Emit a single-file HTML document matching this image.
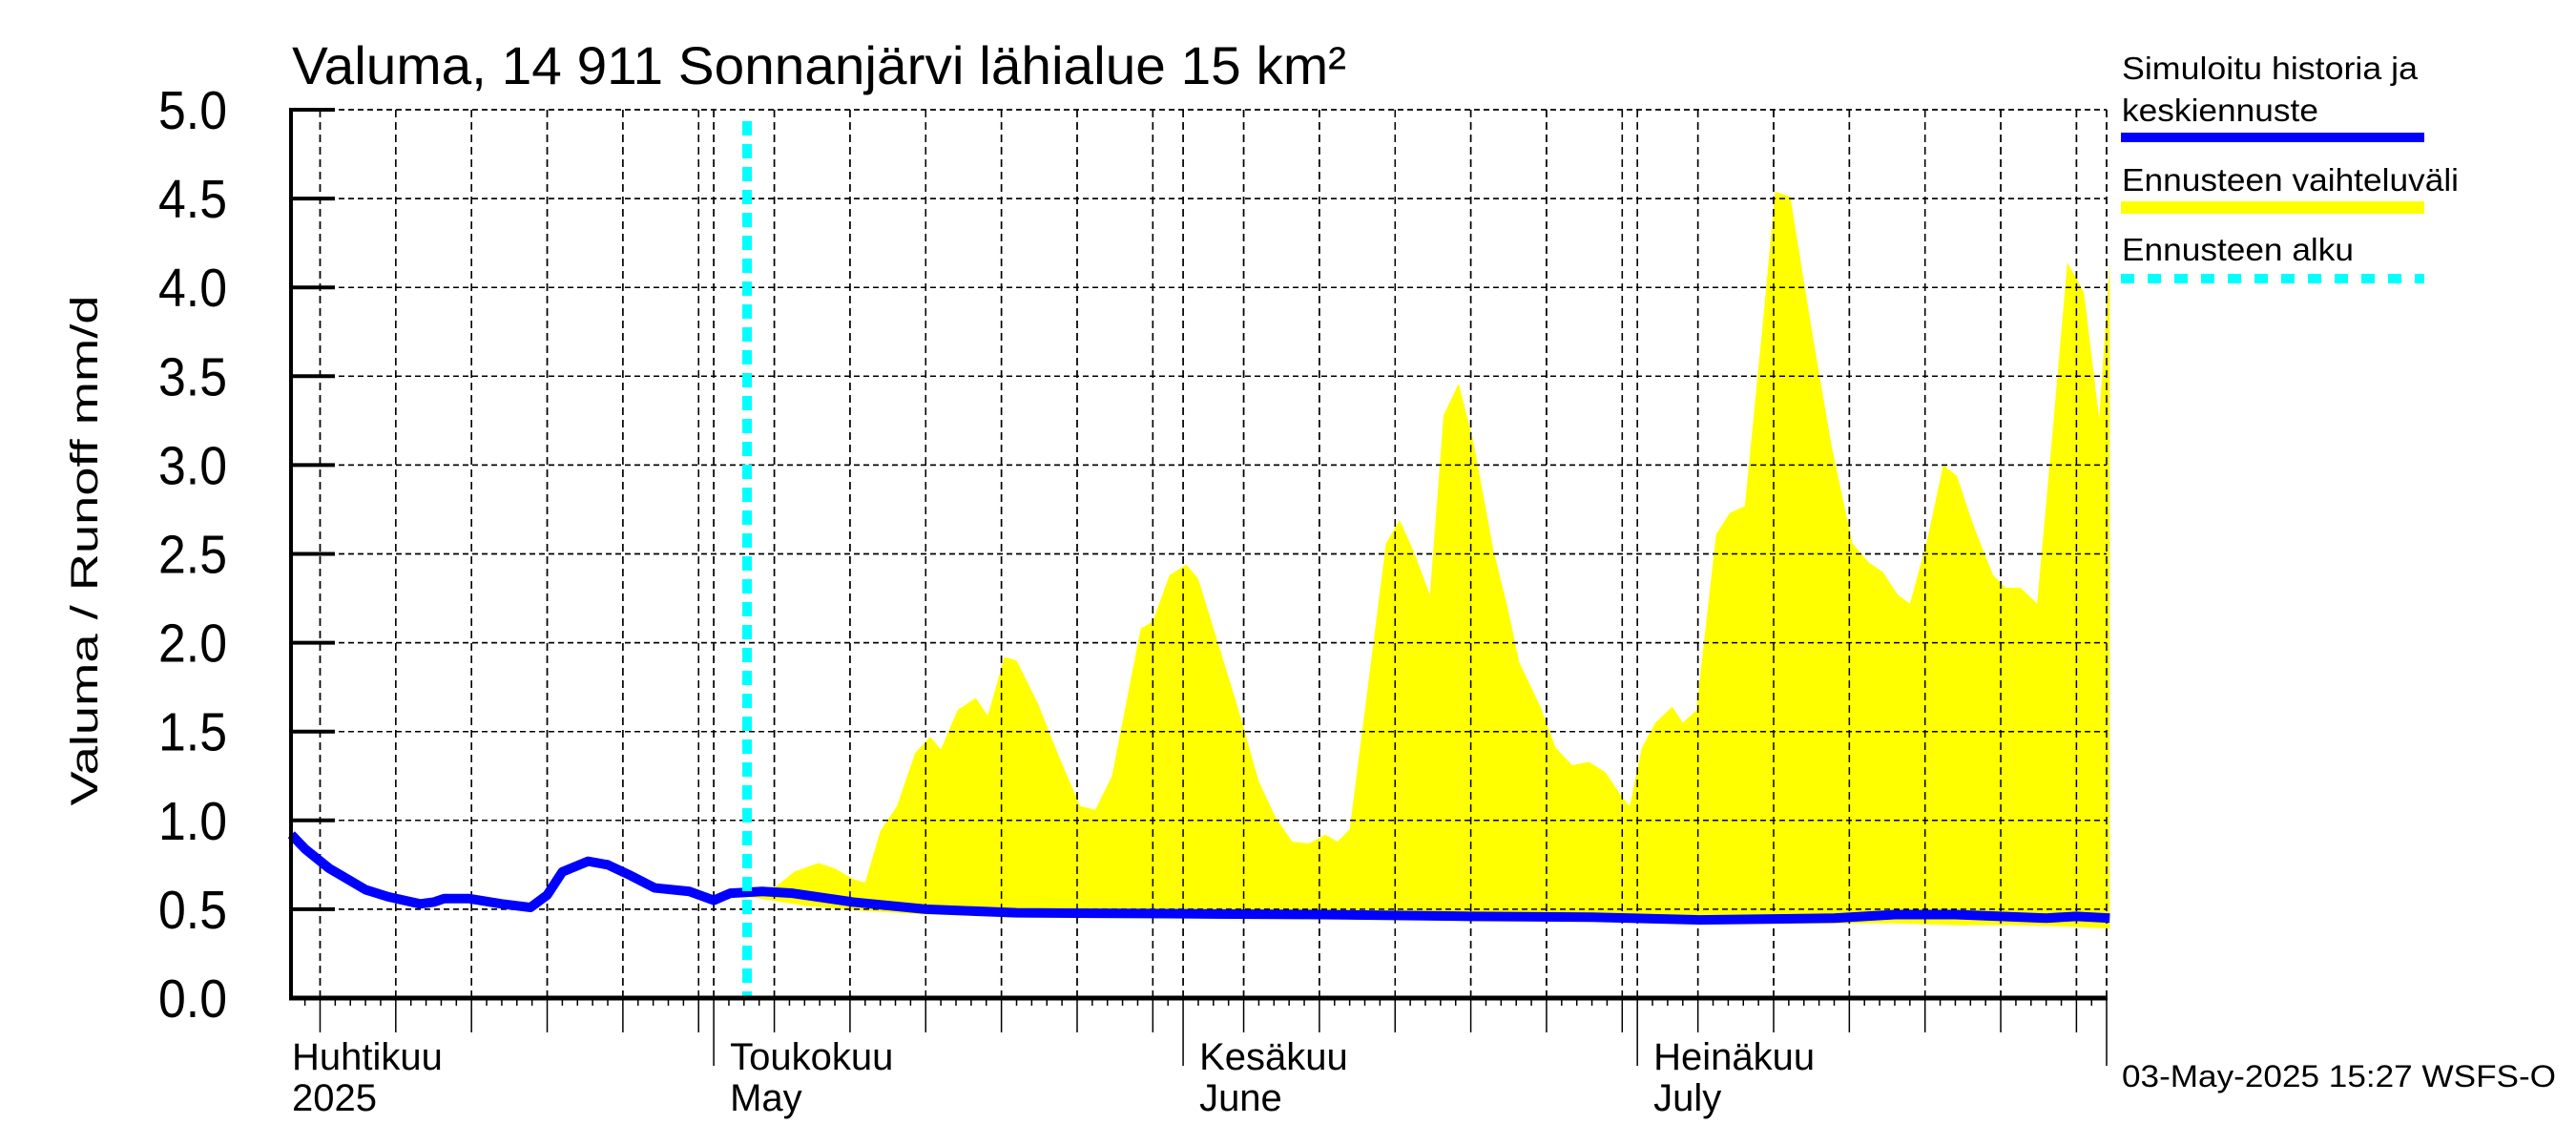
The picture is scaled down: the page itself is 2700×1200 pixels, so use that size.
<!DOCTYPE html>
<html><head><meta charset="utf-8"><style>
html,body{margin:0;padding:0;background:#fff;}
svg{display:block;font-family:"Liberation Sans",sans-serif;}
</style></head><body>
<svg id="chart" width="2700" height="1200" viewBox="0 0 2700 1200" xmlns="http://www.w3.org/2000/svg">
<rect width="2700" height="1200" fill="#fff"/>
<g id="grid"></g>
<g id="band"></g>
<g id="line"></g>
<g id="axes"></g>
<text x="306" y="88" font-size="56" textLength="1105" lengthAdjust="spacingAndGlyphs">Valuma, 14 911 Sonnanjärvi lähialue 15 km²</text>
<text transform="translate(102,577) rotate(-90)" text-anchor="middle" font-size="40" textLength="535" lengthAdjust="spacingAndGlyphs">Valuma / Runoff     mm/d</text>
<g>
<text x="2224" y="83" font-size="33" textLength="310" lengthAdjust="spacingAndGlyphs">Simuloitu historia ja</text>
<text x="2224" y="127" font-size="33" textLength="206" lengthAdjust="spacingAndGlyphs">keskiennuste</text>
<rect x="2223" y="139" width="318" height="10" fill="#0000ff"/>
<text x="2224" y="200" font-size="33" textLength="353" lengthAdjust="spacingAndGlyphs">Ennusteen vaihteluväli</text>
<rect x="2223" y="211" width="318" height="13" fill="#ffff00"/>
<text x="2224" y="273" font-size="33" textLength="243" lengthAdjust="spacingAndGlyphs">Ennusteen alku</text>
<line x1="2223" y1="292" x2="2541" y2="292" stroke="#00ffff" stroke-width="10" stroke-dasharray="14 14"/>
</g>
<text x="2224" y="1139" font-size="32" textLength="455" lengthAdjust="spacingAndGlyphs">03-May-2025 15:27 WSFS-O</text>
</svg>
<script>
// days since 1 April 2025
const blueDays = [2.1,3,4.6,6,7,8.5,10.6,11.5,12.2,13.8,16,17.9,19,20,21.7,23,24.5,26.1,28.4,30,31.1,33.2,35.2,39.2,44,50,60,70,80,88,95,100,104,108,112,115,118,120,122.2];
const blueVals = [0.92,0.84,0.73,0.66,0.61,0.57,0.53,0.54,0.56,0.56,0.53,0.51,0.58,0.71,0.77,0.75,0.69,0.62,0.60,0.55,0.59,0.60,0.59,0.54,0.50,0.48,0.475,0.47,0.46,0.455,0.44,0.445,0.45,0.47,0.47,0.46,0.45,0.46,0.45];
const upDays = [32.3,34,35.3,36.9,38,39.2,40,41,42.1,43.3,44.3,45,46.1,47.3,48.1,49.2,50,51.4,52.8,54.2,55.2,56.3,58.2,59,60.1,61.2,62,63.3,64.6,66,67.1,68.2,69.3,70.4,71.2,72,73.3,74.4,75.3,76.2,77.3,78.2,79.2,80.2,81.5,82.4,83.2,84.6,85.6,86.7,87.8,88.9,90,90.5,91.3,92.2,93.3,94,94.9,96.2,97.1,98.1,99.3,100.1,101.1,102.5,103.8,105.2,106.3,107.2,108.2,109,110.1,111.2,112.1,113.2,114.5,115.3,116.3,117.4,118.5,119.4,120.5,121.5,122.2];
const upVals = [0.58,0.62,0.71,0.76,0.73,0.67,0.65,0.94,1.08,1.38,1.47,1.40,1.62,1.69,1.59,1.92,1.90,1.66,1.36,1.08,1.06,1.25,2.08,2.12,2.38,2.44,2.36,2.0,1.64,1.22,1.02,0.88,0.87,0.92,0.88,0.95,1.82,2.56,2.69,2.52,2.27,3.28,3.46,3.12,2.52,2.21,1.89,1.64,1.41,1.31,1.33,1.27,1.13,1.08,1.41,1.55,1.64,1.55,1.62,2.61,2.73,2.77,3.81,4.54,4.51,3.77,3.12,2.56,2.45,2.40,2.27,2.22,2.56,3.0,2.94,2.66,2.38,2.31,2.31,2.22,3.26,4.14,3.97,3.26,4.14];
const lowDays = [32.3,36,40,44,50,60,70,80,90,95,100,104,108,112,116,120,122.2];
const lowVals = [0.57,0.52,0.49,0.47,0.46,0.455,0.45,0.44,0.43,0.42,0.42,0.42,0.42,0.41,0.41,0.40,0.39];
const yTicks = [0,0.5,1,1.5,2,2.5,3,3.5,4,4.5,5];
const yTickLabels = ["0.0","0.5","1.0","1.5","2.0","2.5","3.0","3.5","4.0","4.5","5.0"];
const monthStarts = [0,30,61,91];
const monthFi = ["Huhtikuu","Toukokuu","Kesäkuu","Heinäkuu"];
const monthEn = ["2025","May","June","July"];
const monthLengths = [30,31,30,31];
const forecastDay = 32.2;

const X0=305, X1=2208, Y0=1046, Y1=115, D0=2.08, D1=122.1;
const xs = d => 272 + d*15.87;
const ys = v => Y0 - (v/5)*(Y0-Y1);
const NS="http://www.w3.org/2000/svg";
function mk(tag, parent, attrs){const e=document.createElementNS(NS,tag);for(const k in attrs)e.setAttribute(k,attrs[k]);parent.appendChild(e);return e;}
const grid=document.getElementById('grid'), band=document.getElementById('band'), line=document.getElementById('line'), axes=document.getElementById('axes');

// horizontal grid
yTicks.forEach((v,i)=>{
  if(v>0){const g=mk('line',grid,{x1:X0,x2:X1,y1:ys(v),y2:ys(v),stroke:'#000','stroke-width':1.5,'stroke-dasharray':'6 4'});
  
  }
  const t=mk('line',axes,{x1:X0,x2:X0+46,y1:ys(v),y2:ys(v),stroke:'#000','stroke-width':4});
  
  
  const l=mk('text',axes,{x:238,y:ys(v)+20,'text-anchor':'end','font-size':57,textLength:72,lengthAdjust:'spacingAndGlyphs'});
  l.textContent=yTickLabels[i];
  
  
});
// vertical grid & ticks
monthStarts.forEach((ms,mi)=>{
  for(let k=0;k<monthLengths[mi];k++){
    const d=ms+k; if(d<D0||d>D1) continue;
    const x=xs(d); const dom=k+1;
    let len=8;
    if(k===0){len=71;}
    else if(dom%5===0){len=36;}
    if(k===0||dom%5===0){
      const g=mk('line',grid,{x1:x,x2:x,y1:Y1,y2:Y0,stroke:'#000','stroke-width':1.5,'stroke-dasharray':'8 5'});
      
      
    }
    const t=mk('line',axes,{x1:x,x2:x,y1:Y0,y2:Y0+len,stroke:'#000','stroke-width':1.5});
    
    
  }
  const lx=Math.max(xs(ms)+17,306);
  const a=mk('text',axes,{x:lx,y:1121,'font-size':40});a.textContent=monthFi[mi];
  
  
  const b=mk('text',axes,{x:lx,y:1164,'font-size':40});b.textContent=monthEn[mi];
  
  
});
{const g=mk('line',grid,{x1:X1,x2:X1,y1:Y1,y2:Y0,stroke:'#000','stroke-width':1.5,'stroke-dasharray':'8 5'});

}
{const t=mk('line',axes,{x1:X1,x2:X1,y1:Y0,y2:Y0+71,stroke:'#000','stroke-width':1.5});

}

// band
let pts=upDays.map((d,i)=>xs(d)+','+ys(upVals[i]));
for(let i=lowDays.length-1;i>=0;i--) pts.push(xs(lowDays[i])+','+ys(lowVals[i]));
const poly=mk('polygon',band,{points:pts.join(' '),fill:'#ffff00'});


// re-draw grid lines over band lightly (grid visible over yellow)
const gclone=grid.cloneNode(true); gclone.removeAttribute('id');
band.appendChild(gclone);

// blue line
const pl=mk('polyline',line,{points:blueDays.map((d,i)=>xs(d)+','+ys(blueVals[i])).join(' '),fill:'none',stroke:'#0000ff','stroke-width':10,'stroke-linejoin':'round'});



// forecast start
const fl=mk('line',line,{x1:xs(forecastDay),x2:xs(forecastDay),y1:127,y2:Y0,stroke:'#00ffff','stroke-width':10,'stroke-dasharray':'15 9'});



// axes lines
const ya=mk('line',axes,{x1:X0,x2:X0,y1:Y1-2,y2:Y0+2,stroke:'#000','stroke-width':4});


const xa=mk('line',axes,{x1:X0-2,x2:X1+1,y1:Y0,y2:Y0,stroke:'#000','stroke-width':5});


</script>
</body></html>
